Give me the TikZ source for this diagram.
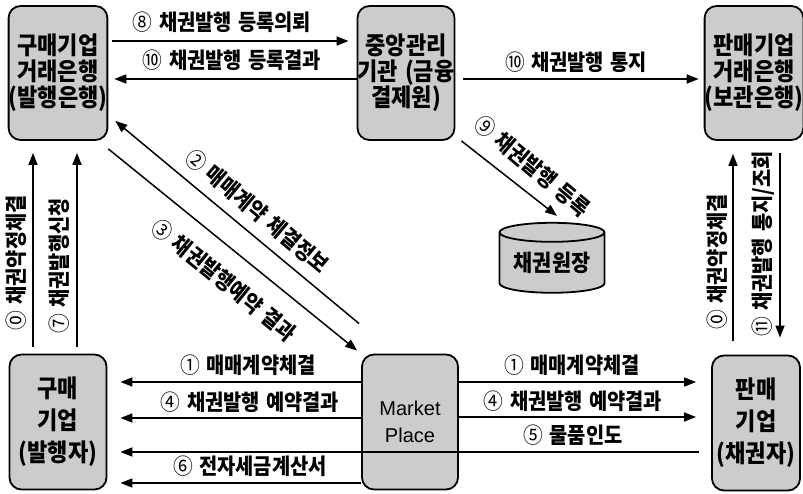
\documentclass[tikz,border=0pt]{standalone}
\usepackage{fontspec}
\setmainfont{Noto Sans CJK KR}
\newfontfamily\krc{Noto Sans CJK KR}[FakeStretch=0.9]
\newfontfamily\krl{Noto Sans CJK KR}[FakeStretch=0.9, WordSpace=1.4]
\newfontfamily\arialf{Liberation Sans}
\newcommand{\cn}[1]{{\mdseries #1}}
\usetikzlibrary{arrows.meta,shapes.geometric}
\tikzset{
  box/.style={draw, line width=1.8pt, rounded corners=12pt, fill=black!20,
    minimum width=95pt, minimum height=134pt, align=center, inner sep=0pt,
    font=\krc\bfseries\fontsize{24.5}{26}\selectfont},
  lowbox/.style={box, minimum height=135pt, font=\krc\bfseries\fontsize{24.5}{32}\selectfont},
  lbl/.style={font=\krl\bfseries\fontsize{22}{23}\selectfont, inner sep=1pt},
  arr/.style={line width=1.5pt, -{Triangle[length=12pt,width=9pt]}}
}
\begin{document}
\begin{tikzpicture}[x=1pt,y=-1pt]
\useasboundingbox (0,0) rectangle (803,494);
% boxes
\node[box] (bank1) at (58,73) {구매기업\\거래은행\\(발행은행)};
\node[box, minimum width=96pt] (kftc) at (406,73) {중앙관리\\기관 (금융\\결제원)};
\node[box, minimum width=92pt] (bank2) at (754,73) {판매기업\\거래은행\\(보관은행)};
\node[lowbox, minimum width=97pt] (buyer) at (58,422) {구매\\기업\\(발행자)};
\node[lowbox, minimum width=96pt, font=\arialf\fontsize{20}{27}\selectfont] (market) at (410,422) {Market\\Place};
\node[lowbox, minimum width=88pt] (seller) at (756,423) {판매\\기업\\(채권자)};
\node[draw, line width=1.8pt, fill=black!20, cylinder, shape border rotate=90, aspect=0.25,
  minimum width=105pt, minimum height=70pt, inner sep=0pt,
  font=\krc\bfseries\fontsize{23}{24}\selectfont] (ledger) at (552,263) {채권원장};
% top arrows
\draw[arr, shorten <=4pt, shorten >=8pt] (bank1.east |- 0,41) -- (kftc.west |- 0,41);
\node[lbl] (l8) at (222,22) {\cn{⑧} 채권발행 등록의뢰};
\draw[arr, shorten >=6pt] (kftc.west |- 0,79) -- (bank1.east |- 0,79);
\node[lbl] (l10a) at (232,60) {\cn{⑩} 채권발행 등록결과};
\draw[arr, shorten <=8pt, shorten >=5pt] (kftc.east |- 0,79) -- (bank2.west |- 0,79);
\node[lbl] (l10b) at (576,62) {\cn{⑩} 채권발행 통지};
% diagonals
\draw[arr] ([shift={(-2,-30)}]market.north west) -- ([shift={(7,-20)}]bank1.south east);
\node[lbl, rotate=-40] (l2) at (257,211) {\cn{②} 매매계약 체결정보};
\draw[arr] ([shift={(0,8)}]bank1.south east) -- ([shift={(-4,-3)}]market.north west);
\node[lbl, rotate=-39] (l3) at (224,280) {\cn{③} 채권발행예약 결과};
\draw[arr] ([shift={(6,0)}]kftc.south east) -- ([shift={(5,-6)}]ledger.north);
\node[lbl, rotate=-40] (l9) at (532,166) {\cn{⑨} 채권발행 등록};
% left verticals
\draw[arr, shorten <=7pt, shorten >=12pt] (buyer.north -| 33,0) -- (bank1.south -| 33,0);
\node[lbl, rotate=90] (l0a) at (16,263) {\cn{⓪} 채권약정체결};
\draw[arr, shorten <=7pt, shorten >=12pt] (buyer.north -| 77,0) -- (bank1.south -| 77,0);
\node[lbl, rotate=90] (l7) at (59,266) {\cn{⑦} 채권발행신청};
% right verticals
\draw[arr, shorten <=14pt, shorten >=13pt] (seller.north -| 733,0) -- (bank2.south -| 733,0);
\node[lbl, rotate=90] (l0b) at (717,262) {\cn{⓪} 채권약정체결};
\draw[arr, shorten <=12pt, shorten >=17pt] (bank2.south -| 780,0) -- (seller.north -| 780,0);
\node[lbl, rotate=90] (l11) at (763,244) {\cn{⑪} 채권발행 통지/조회};
% bottom arrows
\draw[arr, shorten >=13pt] (market.west |- 0,382) -- (buyer.east |- 0,382);
\node[lbl] (l1a) at (248,365) {\cn{①} 매매계약체결};
\draw[arr, shorten >=13pt] (market.west |- 0,418) -- (buyer.east |- 0,418);
\node[lbl] (l4a) at (250,402) {\cn{④} 채권발행 예약결과};
\draw[arr, shorten <=12pt, shorten >=13pt] (seller.west |- 0,452) -- (buyer.east |- 0,452);
\node[lbl] (l5) at (573,435) {\cn{⑤} 물품인도};
\draw[arr, shorten >=13pt] (market.west |- 0,483) -- (buyer.east |- 0,483);
\node[lbl] (l6) at (250,466) {\cn{⑥} 전자세금계산서};
\draw[arr, shorten >=15pt] (market.east |- 0,382) -- (seller.west |- 0,382);
\node[lbl] (l1b) at (572,365) {\cn{①} 매매계약체결};
\draw[arr, shorten >=15pt] (market.east |- 0,417) -- (seller.west |- 0,417);
\node[lbl] (l4b) at (573,401) {\cn{④} 채권발행 예약결과};
\end{tikzpicture}
\end{document}
